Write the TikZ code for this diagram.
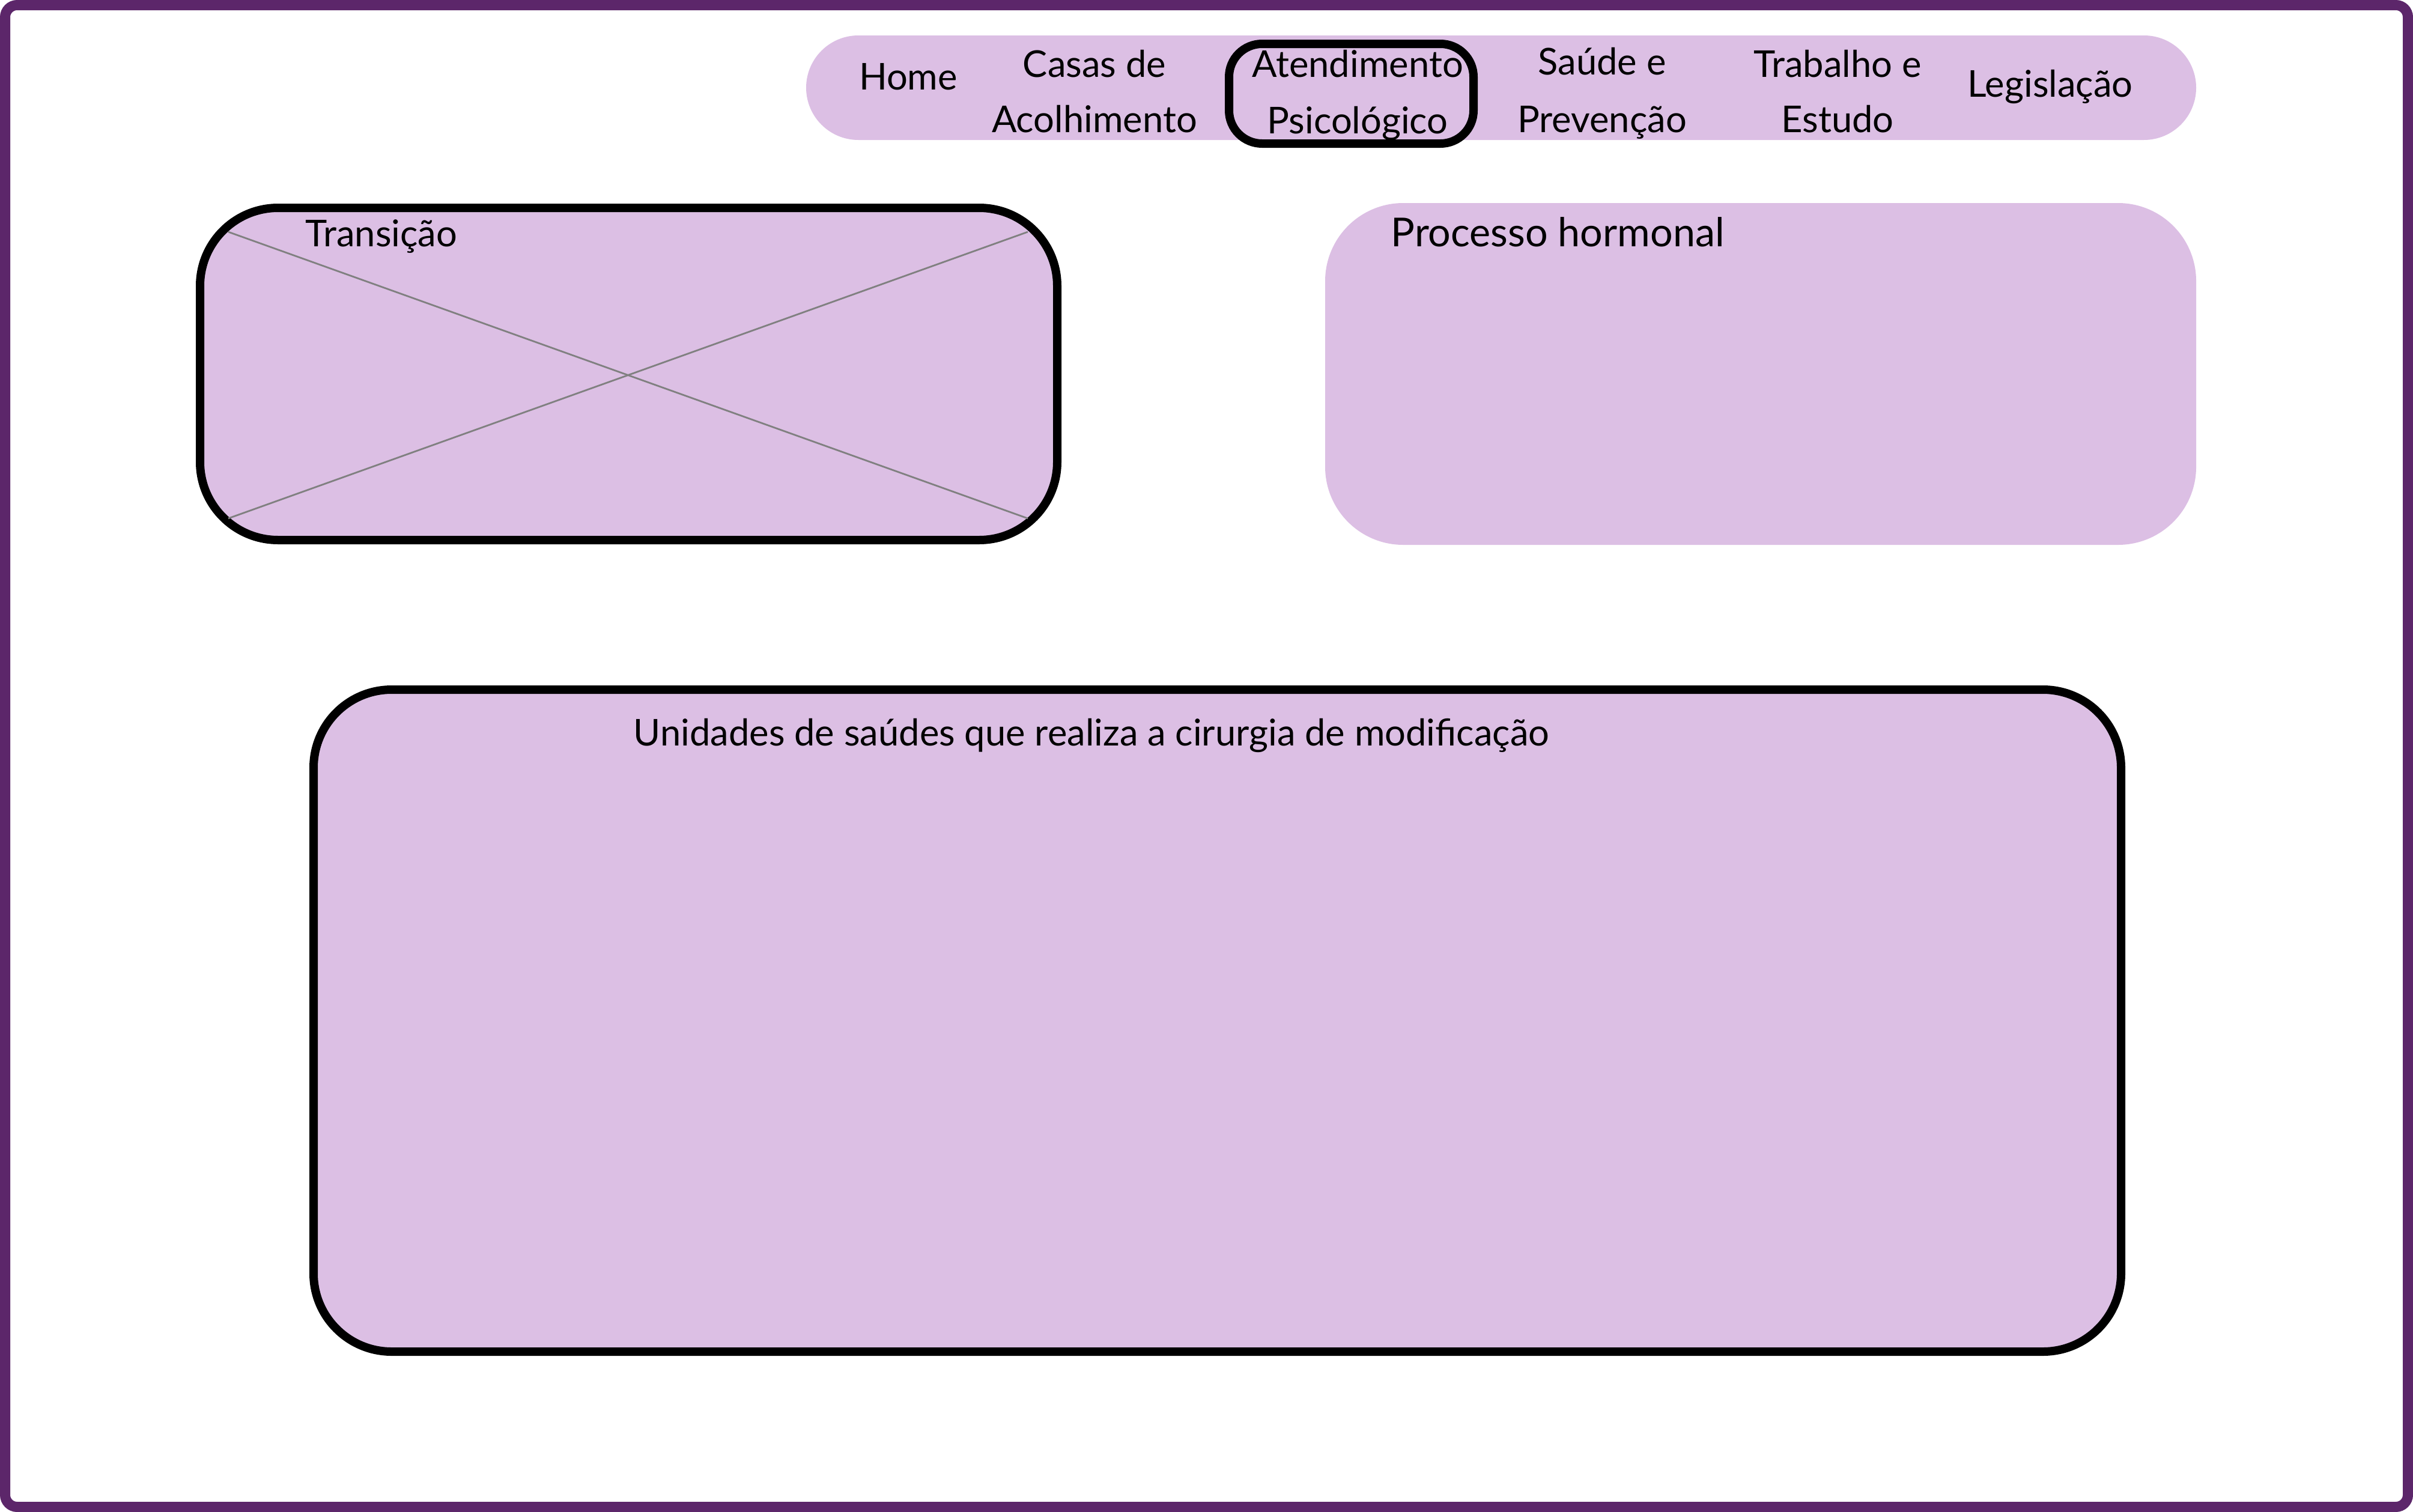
\documentclass[tikz,border=0pt]{standalone}
\usepackage{fontspec}
\setmainfont{Lato}
\definecolor{lilac}{RGB}{220,191,228}
\definecolor{frameviolet}{RGB}{92,38,106}
\definecolor{crossgrey}{RGB}{128,128,128}
\tikzset{
  panel/.style={rectangle, fill=lilac, rounded corners=1.3cm, inner sep=0pt},
  outlined/.style={draw=black, line width=0.14cm},
  menutext/.style={font=\fontsize{17.5}{21}\selectfont, inner sep=0pt, anchor=base},
}
\begin{document}
\begin{tikzpicture}
    \useasboundingbox (0,0) rectangle (40.17,-25.17);
    % outer frame
    \draw[frameviolet, line width=0.17cm, rounded corners=0.2cm]
      (0.085,-0.085) rectangle (40.085,-25.085);
    % menu bar
    \node[panel, rounded corners=0.87cm, minimum width=23.14cm, minimum height=1.74cm]
      (menubar) at (24.99,-1.46) {};
    \node[panel, outlined, rounded corners=0.55cm, minimum width=4.07cm, minimum height=1.66cm]
      (current) at (22.495,-1.56) {};
    % menu entries
    \node[menutext] (home)     at (15.12,-1.49) {Home};
    \node[menutext] (casasA)   at (18.22,-1.29) {Casas de};
    \node[menutext] (casasB)   at (18.22,-2.20) {Acolhimento};
    \node[menutext] (atendA)   at (22.60,-1.29) {Atendimento};
    \node[menutext] (atendB)   at (22.60,-2.22) {Psicológico};
    \node[menutext] (saudeA)   at (26.67,-1.24) {Saúde e};
    \node[menutext] (saudeB)   at (26.67,-2.20) {Prevenção};
    \node[menutext] (trabA)    at (30.59,-1.29) {Trabalho e};
    \node[menutext] (trabB)    at (30.59,-2.20) {Estudo};
    \node[menutext] (legis)    at (34.13,-1.61) {Legislação};
    % Transicao panel with image placeholder
    \node[panel, outlined, minimum width=14.27cm, minimum height=5.53cm]
      (transicao) at (10.465,-6.225) {};
    \coordinate (crossNW) at (3.80,-3.86);
    \coordinate (crossNE) at (17.11,-3.86);
    \coordinate (crossSW) at (3.80,-8.63);
    \coordinate (crossSE) at (17.11,-8.63);
    \draw[crossgrey, line width=0.8pt] (crossNW) -- (crossSE);
    \draw[crossgrey, line width=0.8pt] (crossSW) -- (crossNE);
    \node[menutext, anchor=base west] (transicaoLbl) at (5.08,-4.10) {Transição};
    % hormone panel
    \node[panel, minimum width=14.50cm, minimum height=5.69cm]
      (hormonal) at (29.31,-6.225) {};
    \node[menutext, anchor=base west, font=\fontsize{18.9}{23}\selectfont]
      (hormonalLbl) at (23.15,-4.10) {Processo hormonal};
    % health units panel
    \node[panel, outlined, minimum width=30.09cm, minimum height=11.02cm]
      (unidades) at (20.265,-16.99) {};
    \node[menutext, anchor=base west] (unidadesLbl) at (10.54,-12.41)
      {Unidades de saúdes que realiza a cirurgia de modificação};
\end{tikzpicture}
\end{document}
